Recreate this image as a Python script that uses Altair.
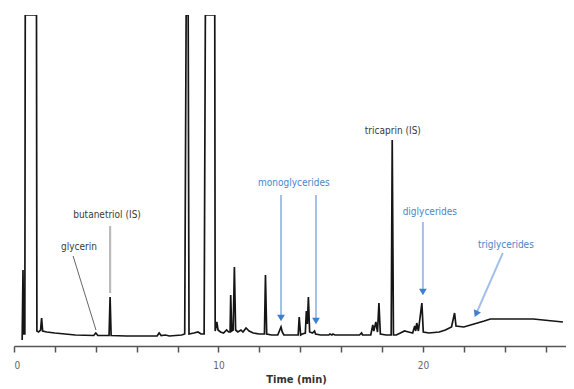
import altair as alt
import pandas as pd

# chromatogram trace: retention time (min) and detector signal (arbitrary units)
time_min = [0.40, 0.44, 0.47, 0.53, 0.55, 1.10, 1.12, 1.20, 1.30, 1.35, 1.40, 1.60, 2.00, 3.00,
            3.90, 4.00, 4.10, 4.65, 4.70, 4.75, 5.50, 7.00, 7.10, 7.20, 7.40, 7.60, 8.20, 8.35,
            8.42, 8.45, 8.52, 8.56, 8.80, 9.00, 9.15, 9.30, 9.36, 9.82, 9.84, 9.92, 9.98, 10.10,
            10.25, 10.40, 10.50, 10.57, 10.60, 10.65, 10.72, 10.78, 10.84, 10.95, 11.10, 11.20,
            11.35, 11.50, 11.70, 12.00, 12.25, 12.30, 12.36, 12.60, 12.90, 13.00, 13.06, 13.12,
            13.20, 13.90, 13.95, 14.02, 14.10, 14.25, 14.30, 14.35, 14.40, 14.46, 14.60, 14.70,
            14.75, 15.00, 15.40, 15.45, 15.55, 15.60, 15.70, 16.90, 17.00, 17.05, 17.45, 17.55,
            17.60, 17.70, 17.78, 17.85, 17.92, 18.20, 18.45, 18.50, 18.56, 18.70, 18.90, 19.10,
            19.30, 19.50, 19.60, 19.65, 19.70, 19.78, 19.95, 20.02, 20.30, 20.80, 21.10, 21.40,
            21.55, 21.62, 22.00, 22.50, 23.00, 23.30, 25.40, 26.85]
signal = [-4, 66, 2, 2, 321, 321, 5, 4, 6, 18, 5, 4, 3, 1,
          0.5, 3, 0.5, 0.5, 39, 0.5, 0, 0, 3, 0.5, 1, 0, 1, 2,
          321, 321, 321, 2, 3, 4, 2, 2, 321, 321, 5, 14, 6, 4,
          3, 6, 4, 4, 41, 5, 6, 69, 6, 4, 6, 4,
          8, 5, 3, 2, 2, 61, 2, 1, 1, 6, 9, 4,
          1, 1, 19, 1, 2, 3, 25, 12, 39, 4, 3, 5,
          2, 1, 1, 2, 1, 2, 1, 1, 3, 1, 1, 11,
          5, 14, 4, 33, 2, 1, 1, 196, 1, 1, 3, 5,
          4, 3, 10, 5, 13, 5, 33, 4, 3, 4, 6, 9,
          23, 10, 9, 12, 15, 17, 17, 14]

# compound labels
label_text = ["glycerin", "butanetriol (IS)", "monoglycerides", "tricaprin (IS)",
              "diglycerides", "triglycerides"]
label_t = [3.18, 4.55, 13.69, 18.53, 20.34, 24.06]
label_s = [89, 121, 153, 205, 124, 91]
label_blue = [False, False, True, False, True, True]

# leader lines: glycerin (thin dark grey), butanetriol (thick light grey)
leader_t = [2.89, 4.70]
leader_s = [80, 110]
leader_t2 = [4.01, 4.70]
leader_s2 = [6, 43]

# blue arrows (tail -> head)
arrow_t = [13.06, 14.77, 20.00, 23.91]
arrow_s = [141, 141, 114, 83]
arrow_t2 = [13.06, 14.77, 20.00, 22.60]
arrow_s2 = [18, 15, 44, 22]

ticks = list(range(0, 28))

FONT = "DejaVu Sans Condensed, Liberation Sans, sans-serif"

trace = pd.DataFrame({"t": time_min, "s": signal, "i": list(range(len(time_min)))})
labels = pd.DataFrame({"t": label_t, "s": label_s, "txt": label_text, "blue": label_blue})
leaders = pd.DataFrame({"t": leader_t, "s": leader_s, "t2": leader_t2, "s2": leader_s2,
                        "k": [0, 1]})
arrows = pd.DataFrame({"t": arrow_t, "s": arrow_s, "t2": arrow_t2, "s2": arrow_s2,
                       "k": [0, 1, 2, 3]})

xs = alt.Scale(domain=[0, 27], nice=False, zero=False)
ys = alt.Scale(domain=[-10, 321], nice=False, zero=False)

x_enc = alt.X("t:Q", scale=xs, title="Time (min)",
              axis=alt.Axis(values=ticks, labelExpr="datum.value % 10 === 0 ? datum.label : ''",
                            grid=False, domainColor="#555555", domainWidth=1.5,
                            tickColor="#555555", tickWidth=1.5, tickSize=6,
                            labelFontSize=10, labelColor="#666666", labelPadding=8,
                            labelFont=FONT, titleFont=FONT, titleFontSize=11,
                            titleFontWeight="bold", titleColor="#333333", titlePadding=3,
                            titleX=282, titleAlign="center"))
y_enc = alt.Y("s:Q", scale=ys, axis=None)

xr = alt.X("t:Q", scale=xs)
yr = alt.Y("s:Q", scale=ys)

line = alt.Chart(trace).mark_line(color="#151515", strokeWidth=1.7, clip=True).encode(
    x=x_enc, y=y_enc, order="i:Q")

lead1 = alt.Chart(leaders).transform_filter("datum.k == 0").mark_rule(
    color="#666666", strokeWidth=1).encode(x=xr, y=yr, x2="t2:Q", y2="s2:Q")
lead2 = alt.Chart(leaders).transform_filter("datum.k == 1").mark_rule(
    color="#bbbbbb", strokeWidth=2.2).encode(x=xr, y=yr, x2="t2:Q", y2="s2:Q")

arr = alt.Chart(arrows).mark_rule(color="#a4c0e6", strokeWidth=2).encode(
    x=xr, y=yr, x2="t2:Q", y2="s2:Q")

heads_v = alt.Chart(arrows).transform_filter("datum.k < 3").mark_point(
    shape="triangle-down", filled=True, color="#3f7fcf", size=60, opacity=1).encode(
    x=alt.X("t2:Q", scale=xs), y=alt.Y("s2:Q", scale=ys))
heads_d = alt.Chart(arrows).transform_filter("datum.k == 3").mark_point(
    shape="triangle-down", filled=True, color="#3f7fcf", size=60, opacity=1, angle=24).encode(
    x=alt.X("t2:Q", scale=xs), y=alt.Y("s2:Q", scale=ys))

txt_grey = alt.Chart(labels).transform_filter("!datum.blue").mark_text(
    font=FONT, fontSize=10, color="#3a3a3a").encode(x=xr, y=yr, text="txt:N")
txt_blue = alt.Chart(labels).transform_filter("datum.blue").mark_text(
    font=FONT, fontSize=10, color="#4a86c8").encode(x=xr, y=yr, text="txt:N")

chart = alt.layer(line, lead1, lead2, arr, heads_v, heads_d, txt_grey, txt_blue).properties(
    width=552, height=331,
    autosize=alt.AutoSizeParams(type="none"),
    padding={"left": 6, "top": 7, "right": 0, "bottom": 40},
).configure_view(stroke=None)

chart.save("out.html", embed_options={"renderer": "svg", "actions": False})
